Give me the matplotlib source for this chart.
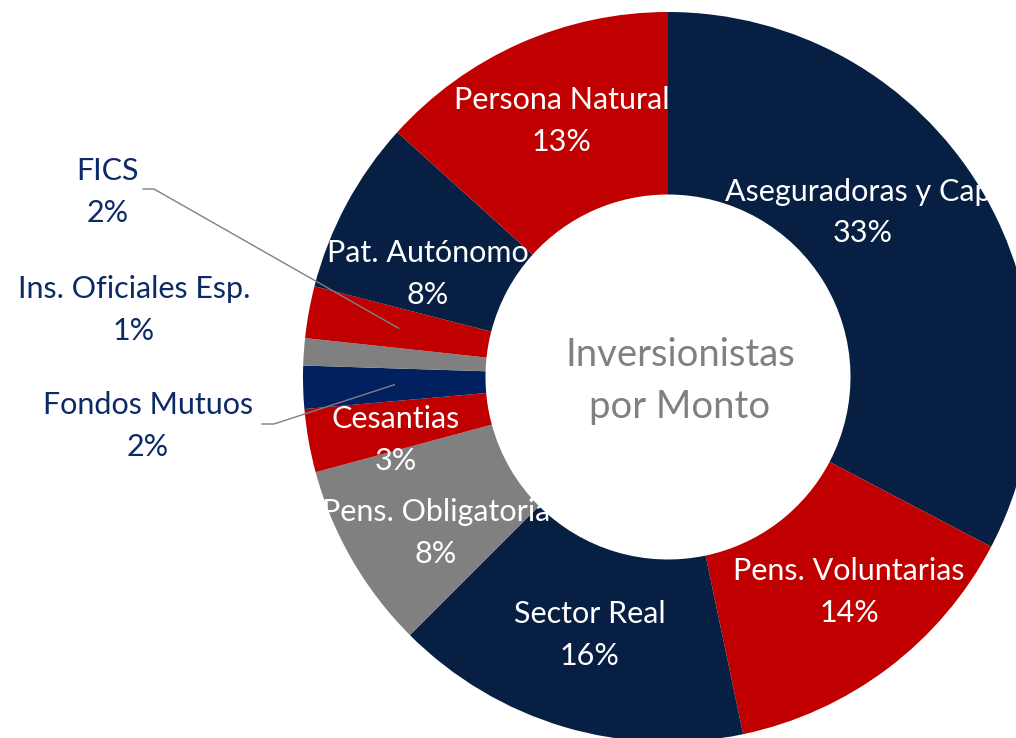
import matplotlib.pyplot as plt
import numpy as np

# datos (participacion por monto, %)
categorias = ["Aseguradoras y Cap.", "Pens. Voluntarias", "Sector Real",
              "Pens. Obligatoria", "Cesantias", "Fondos Mutuos",
              "Ins. Oficiales Esp.", "FICS", "Pat. Autónomo", "Persona Natural"]
valores = [32.7, 14.0, 15.8, 8.3, 2.8, 1.9, 1.2, 2.3, 7.7, 13.3]
colores = ["#061F42", "#C00000", "#061F42", "#808080", "#C00000",
           "#00205F", "#808080", "#C00000", "#061F42", "#C00000"]

AZUL_TXT = "#0B2A66"
GRIS = "#808080"
PX = 365.0  # pixeles por unidad de radio

plt.rcParams['font.family'] = ['Lato', 'DejaVu Sans']


def px2d(px, py):
    # pixel (desde arriba-izquierda) -> coordenadas de datos
    return (px - 668) / PX, (377 - py) / PX


fig = plt.figure(figsize=(10.16, 7.38), dpi=100)
ax = fig.add_axes([0, 0, 1, 1])

wedges, _ = ax.pie(valores, colors=colores, radius=1.0, startangle=90,
                   counterclock=False,
                   wedgeprops=dict(width=0.5, linewidth=0))

ax.set_xlim(-668 / PX, (1016 - 668) / PX)
ax.set_ylim(-(738 - 377) / PX, 377 / PX)
ax.set_aspect('equal')
ax.axis('off')

# ajustes de etiqueta en pixeles (dx, dy hacia abajo)
ajustes = {
    "Aseguradoras y Cap.": (-40, -23),
    "Pens. Voluntarias": (16, -3),
    "Sector Real": (0, -4),
    "Pens. Obligatoria": (5, 19),
    "Cesantias": (-3, 15),
    "Pat. Autónomo": (1, 27),
    "Persona Natural": (5, -6),
}
externas = {
    "FICS": (108, 192),
    "Ins. Oficiales Esp.": (134, 310),
    "Fondos Mutuos": (148, 426),
}
lineas = {
    "FICS": [(154, 189), (143, 189)],
    "Fondos Mutuos": [(274, 424), (262, 424)],
}

for w, cat, v in zip(wedges, categorias, valores):
    ang = np.deg2rad((w.theta1 + w.theta2) / 2)
    xm, ym = 0.75 * np.cos(ang), 0.75 * np.sin(ang)
    texto = f"{cat}\n{round(v)}%"
    if cat in externas:
        tx, ty = px2d(*externas[cat])
        ax.text(tx, ty, texto, ha='center', va='center', fontsize=22,
                color=AZUL_TXT, linespacing=1.6)
        if cat in lineas:
            pts = [(xm, ym)] + [px2d(*p) for p in lineas[cat]]
            ax.plot([p[0] for p in pts], [p[1] for p in pts],
                    color=GRIS, lw=1.0)
    else:
        dx, dy = ajustes.get(cat, (0, 0))
        ax.text(xm + dx / PX, ym - dy / PX, texto, ha='center', va='center',
                fontsize=22, color='white', linespacing=1.6)

cx, cy = px2d(680, 381)
ax.text(cx, cy, "Inversionistas\npor Monto", ha='center', va='center',
        fontsize=27.5, color=GRIS, linespacing=1.55)

fig.savefig("out.png", dpi=100)
